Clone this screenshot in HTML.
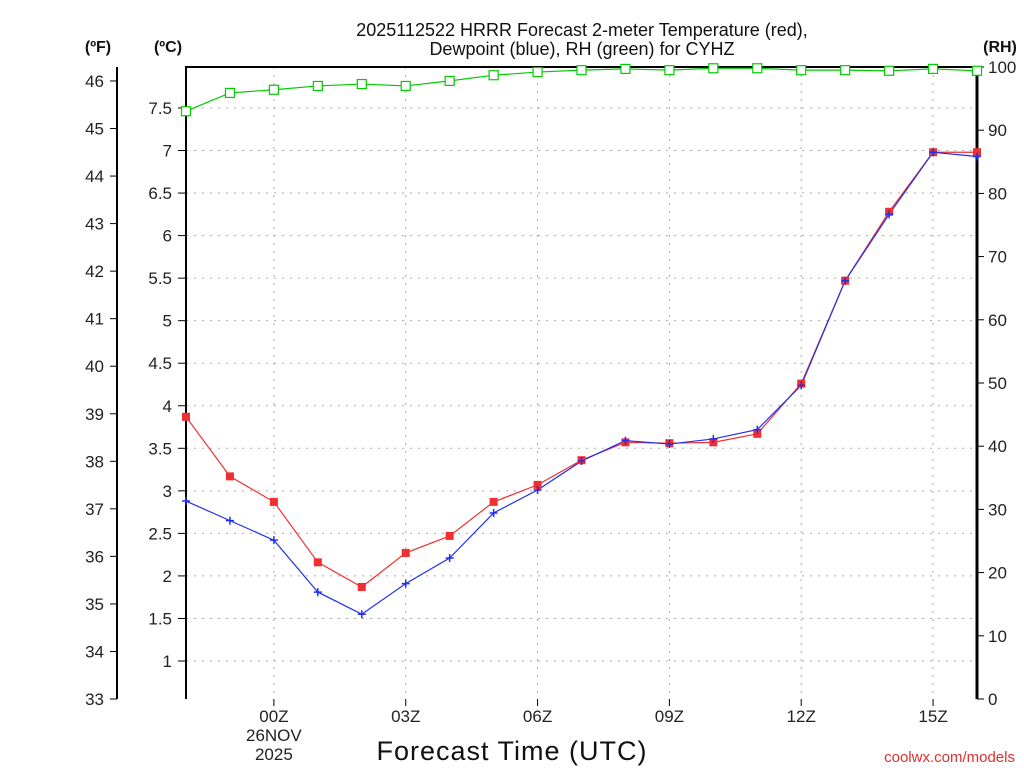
<!DOCTYPE html>
<html><head><meta charset="utf-8"><style>
html,body{margin:0;padding:0;background:#fff;}
svg{display:block;font-family:"Liberation Sans","DejaVu Sans",sans-serif;}
</style></head><body>
<svg id="chart" width="1024" height="768">
<text x="582" y="36" text-anchor="middle" font-size="18" fill="#111">2025112522 HRRR Forecast 2-meter Temperature (red),</text>
<text x="582" y="55" text-anchor="middle" font-size="18" fill="#111">Dewpoint (blue), RH (green) for CYHZ</text>
<text x="98" y="52" text-anchor="middle" font-size="16" font-weight="bold" fill="#111">(ºF)</text>
<text x="168" y="52" text-anchor="middle" font-size="16" font-weight="bold" fill="#111">(ºC)</text>
<text x="1000" y="52" text-anchor="middle" font-size="16" font-weight="bold" fill="#111">(RH)</text>
<text x="512" y="760" text-anchor="middle" font-size="27" letter-spacing="1" fill="#111">Forecast Time (UTC)</text>
<text x="1015" y="762" text-anchor="end" font-size="15" fill="#e03030">coolwx.com/models</text>
<g id="grid"></g><g id="axes"></g><g id="series"></g>
</svg>
<script>
const hours = [0,1,2,3,4,5,6,7,8,9,10,11,12,13,14,15,16,17,18];
const tempC = [3.87,3.17,2.87,2.16,1.87,2.27,2.47,2.87,3.07,3.36,3.57,3.56,3.57,3.67,4.26,5.47,6.28,6.98,6.98];
const dewC = [2.88,2.65,2.42,1.81,1.55,1.91,2.21,2.74,3.01,3.35,3.59,3.55,3.61,3.72,4.24,5.47,6.25,6.98,6.93];
const rh = [93.0,95.9,96.4,97.0,97.3,97.0,97.8,98.7,99.2,99.5,99.7,99.5,99.8,99.8,99.5,99.5,99.4,99.7,99.4];
const cTicks = [1,1.5,2,2.5,3,3.5,4,4.5,5,5.5,6,6.5,7,7.5];
const fTicks = [33,34,35,36,37,38,39,40,41,42,43,44,45,46];
const rhTicks = [0,10,20,30,40,50,60,70,80,90,100];
const xTickHours = [2,5,8,11,14,17];
const xTickLabels = ["00Z","03Z","06Z","09Z","12Z","15Z"];

const L=186,R=977,T=67,B=699;
const xS=h=>L+h*(R-L)/18;
const yC=c=>661-(c-1)*85.08;
const yF=f=>699-(f-33)*47.54;
const yR=v=>B-v*(B-T)/100;
const NS="http://www.w3.org/2000/svg";
function mk(tag,attrs,parent){const e=document.createElementNS(NS,tag);for(const k in attrs)e.setAttribute(k,attrs[k]);parent.appendChild(e);return e;}
const grid=document.getElementById('grid'),axes=document.getElementById('axes'),ser=document.getElementById('series');

cTicks.forEach(c=>{
 const g=mk('line',{x1:L,x2:R,y1:yC(c),y2:yC(c),stroke:'#aaa','stroke-dasharray':'2 6'},grid);
 
 
 const t=mk('line',{x1:178,x2:L,y1:yC(c),y2:yC(c),stroke:'#000'},axes);
 
 
 const l=mk('text',{x:172,y:yC(c)+6,'text-anchor':'end','font-size':17,fill:'#222'},axes);
 
 
 l.textContent=String(c);
});
xTickHours.forEach((h,i)=>{
 const g=mk('line',{x1:xS(h),x2:xS(h),y1:T,y2:B,stroke:'#aaa','stroke-dasharray':'2 6'},grid);
 
 
 const t=mk('line',{x1:xS(h),x2:xS(h),y1:B,y2:B+7,stroke:'#000'},axes);
 
 
 const l=mk('text',{x:xS(h),y:722,'text-anchor':'middle','font-size':17,fill:'#222'},axes);
 
 
 l.textContent=xTickLabels[i];
});
[["26NOV",741],["2025",760]].forEach(d=>{
 const l=mk('text',{x:xS(2),y:d[1],'text-anchor':'middle','font-size':17,fill:'#222'},axes);
 
 
 l.textContent=d[0];
});
const fl=mk('line',{x1:117,x2:117,y1:T,y2:B,stroke:'#000','stroke-width':2},axes);


fTicks.forEach(f=>{
 const t=mk('line',{x1:110,x2:117,y1:yF(f),y2:yF(f),stroke:'#000'},axes);
 
 
 const l=mk('text',{x:104,y:yF(f)+6,'text-anchor':'end','font-size':17,fill:'#222'},axes);
 
 
 l.textContent=String(f);
});
rhTicks.forEach(v=>{
 const t=mk('line',{x1:R,x2:R+7,y1:yR(v),y2:yR(v),stroke:'#000'},axes);
 
 
 const l=mk('text',{x:988,y:yR(v)+6,'text-anchor':'start','font-size':17,fill:'#222'},axes);
 
 
 l.textContent=String(v);
});
const box=mk('path',{d:`M${L},${B}V${T}H${R}`,fill:'none',stroke:'#000','stroke-width':2},axes);


const rax=mk('line',{x1:R,x2:R,y1:T-1,y2:B,stroke:'#000','stroke-width':3},axes);



function line(vals,ys,color,name){
 const p=mk('polyline',{points:vals.map((v,i)=>xS(hours[i])+','+ys(v)).join(' '),fill:'none',stroke:color,'stroke-width':1.2},ser);
 
 
}
line(rh,yR,'#00cc00','rh-line');
line(tempC,yC,'#f03030','temperature-line');
line(dewC,yC,'#2030f0','dewpoint-line');
rh.forEach((v,i)=>{
 const m=mk('rect',{x:xS(hours[i])-4.5,y:yR(v)-4.5,width:9,height:9,fill:'#fff',stroke:'#00cc00','stroke-width':1.2},ser);
 
 
});
tempC.forEach((v,i)=>{
 const m=mk('rect',{x:xS(hours[i])-4,y:yC(v)-4,width:8,height:8,fill:'#f03030'},ser);
 
 
});
dewC.forEach((v,i)=>{
 const x=xS(hours[i]),y=yC(v);
 const m=mk('path',{d:`M${x-4},${y}H${x+4}M${x},${y-4}V${y+4}`,stroke:'#2030f0','stroke-width':1.5},ser);
 
 
});
</script>
</body></html>
